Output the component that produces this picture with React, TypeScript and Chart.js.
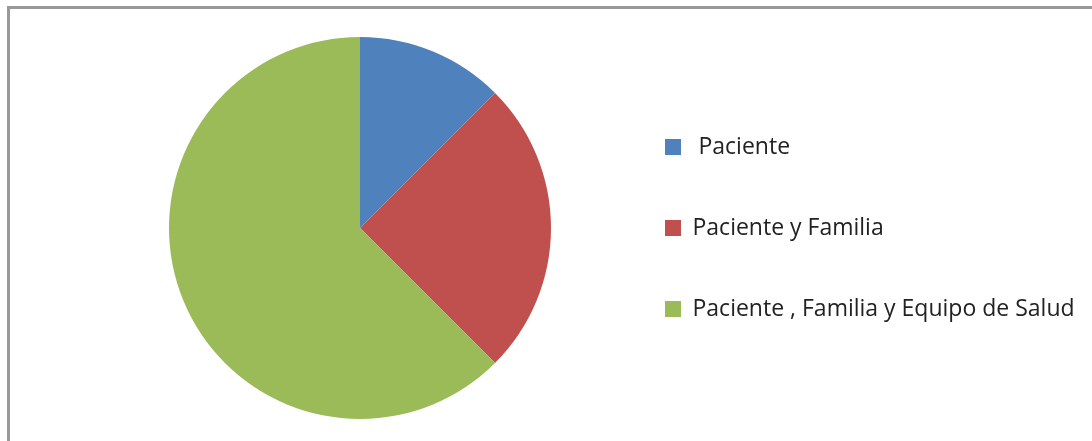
import React, { useEffect, useRef } from "react";
import { Chart, registerables } from "chart.js";

Chart.register(...registerables);

const categories = [" Paciente", "Paciente y Familia", "Paciente , Familia y Equipo de Salud"];
const values = [12.5, 25, 62.5];
const colors = ["#4F81BD", "#C0504D", "#9BBB59"];

const FONT_FAMILY = "'Open Sans', sans-serif";
const FONT_SIZE = 23;
const LEGEND_PAD = 58;
const BOX = 16;
const LEGEND_LEFT = 607;
const H = 441;

export default function App() {
  const ref = useRef<HTMLCanvasElement | null>(null);

  useEffect(() => {
    const canvas = ref.current!;
    const mctx = document.createElement("canvas").getContext("2d")!;
    mctx.font = `normal ${FONT_SIZE}px ${FONT_FAMILY}`;
    const maxText = Math.max(...categories.map((c) => mctx.measureText(c).width));
    // Chart.js vertical legend width = padding + itemWidth + 10
    const legendW = LEGEND_PAD + BOX + FONT_SIZE / 2 + maxText + 10;
    const W = Math.ceil(LEGEND_LEFT + legendW + 2);
    canvas.width = W;
    canvas.height = H;
    canvas.style.width = W + "px";
    canvas.style.height = H + "px";

    const chart = new Chart(canvas, {
      type: "pie",
      data: {
        labels: categories,
        datasets: [
          {
            data: values,
            backgroundColor: colors,
            borderWidth: 0,
          },
        ],
      },
      options: {
        responsive: false,
        animation: false,
        layout: { padding: { left: 113, top: 37, bottom: 22, right: W - LEGEND_LEFT - legendW } },
        plugins: {
          tooltip: { enabled: false },
          legend: {
            position: "right",
            maxWidth: 2000,
            labels: {
              boxWidth: BOX,
              boxHeight: BOX,
              padding: LEGEND_PAD,
              color: "#222",
              font: { family: FONT_FAMILY, size: FONT_SIZE },
            },
          },
        },
      },
    });
    return () => chart.destroy();
  }, []);

  return (
    <div
      style={{
        position: "absolute",
        left: 0,
        top: 0,
        width: 1092,
        height: 441,
        overflow: "hidden",
        background: "#fff",
      }}
    >
      <div
        style={{
          position: "absolute",
          left: 7,
          top: 6,
          width: 1200,
          height: 600,
          borderLeft: "3px solid #999",
          borderTop: "3px solid #999",
          boxSizing: "border-box",
        }}
      />
      <canvas ref={ref} style={{ position: "absolute", left: 0, top: 0 }} />
    </div>
  );
}
